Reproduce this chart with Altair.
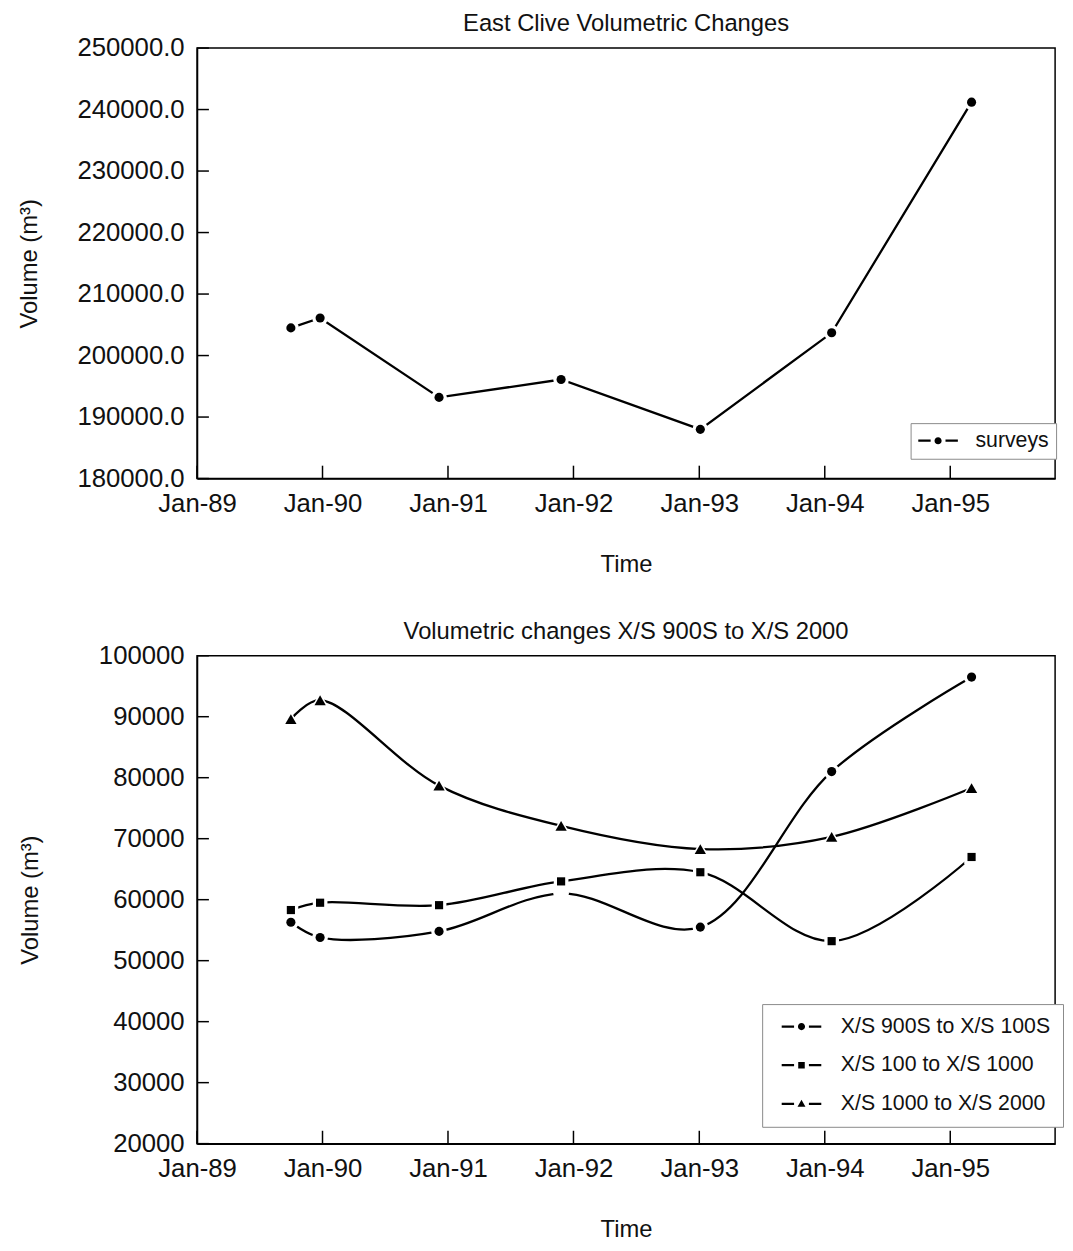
import altair as alt
import pandas as pd

FONT = "Liberation Sans"

# ---- data ----
survey_dates = ["1989/10/01", "1989/12/25", "1990/12/06", "1991/11/26",
                "1993/01/04", "1994/01/21", "1995/03/04"]
survey_volume = [204500, 206100, 193200, 196100, 188000, 203700, 241200]

section_names = ["X/S 900S to X/S 100S", "X/S 100 to X/S 1000", "X/S 1000 to X/S 2000"]
xs900s_100s = [56300, 53800, 54800, 61000, 55500, 81000, 96500]
xs900s_100s_marker = [True, True, True, False, True, True, True]
xs100_1000 = [58300, 59500, 59100, 63000, 64500, 53200, 67000]
xs1000_2000 = [89600, 92700, 78700, 72100, 68300, 70300, 78300]

year_ticks = ["1989/01/01", "1990/01/01", "1991/01/01", "1992/01/01",
              "1993/01/01", "1994/01/01", "1995/01/01"]
top_y_ticks = [180000, 190000, 200000, 210000, 220000, 230000, 240000, 250000]
bottom_y_ticks = [20000, 30000, 40000, 50000, 60000, 70000, 80000, 90000, 100000]

# ---- tables ----
top_df = pd.DataFrame({"date": survey_dates, "volume": survey_volume,
                       "series": "surveys", "shown": True})
rows = []
for name, vals, shown in [
    (section_names[0], xs900s_100s, xs900s_100s_marker),
    (section_names[1], xs100_1000, [True] * len(xs100_1000)),
    (section_names[2], xs1000_2000, [True] * len(xs1000_2000)),
]:
    for d, v, s in zip(survey_dates, vals, shown):
        rows.append({"date": d, "volume": v, "series": name, "shown": s})
bottom_df = pd.DataFrame(rows)

WIDTH = 867
X_DOMAIN = [alt.DateTime(year=1989, month=1, date=1), alt.DateTime(year=1995, month=11, date=2)]
YEAR_VALUES = [alt.DateTime(year=int(s[:4]), month=1, date=1) for s in year_ticks]

MARK_SHAPES = {"surveys": "circle",
               section_names[0]: "circle",
               section_names[1]: "square",
               section_names[2]: "triangle-up"}
MARK_SIZE = {"circle": 85, "square": 68, "triangle-up": 130}
HALO_SIZE = {"circle": 250, "square": 220, "triangle-up": 340}
# legend glyph "-o-": two short bars and a marker, all filled (units: 10 px)
LEG_DASH = "M-2,-0.11L-0.75,-0.11L-0.75,0.11L-2,0.11ZM0.75,-0.11L2,-0.11L2,0.11L0.75,0.11Z"
LEG_PATHS = {
    "circle": LEG_DASH + "M0,-0.36A0.36,0.36,0,1,1,0,0.36A0.36,0.36,0,1,1,0,-0.36Z",
    "square": LEG_DASH + "M-0.33,-0.33L0.33,-0.33L0.33,0.33L-0.33,0.33Z",
    "triangle-up": LEG_DASH + "M0,-0.4L0.4,0.3L-0.4,0.3Z",
}


def panel(df, names, title, y_domain, y_ticks, y_format, height, interp,
          title_pad, leg_x, leg_y, leg_pad, leg_row_pad, leg_sym_off, leg_lab_off):
    base = alt.Chart(df)
    x = alt.X("date:T", scale=alt.Scale(domain=X_DOMAIN),
              axis=alt.Axis(values=YEAR_VALUES, format="%b-%y", title="Time",
                            labelPadding=12, titlePadding=37, labelFlush=False,
                            labelOverlap=False))
    y = alt.Y("volume:Q", scale=alt.Scale(domain=y_domain, nice=False, zero=False),
              axis=alt.Axis(values=y_ticks, format=y_format, title="Volume (m³)",
                            labelPadding=13, titlePadding=title_pad, labelFlush=False))
    shapes = [MARK_SHAPES[n] for n in names]
    shape_scale = alt.Scale(domain=names, range=shapes)

    line = base.mark_line(color="black", strokeWidth=2.3, interpolate=interp).encode(
        x=x, y=y, detail="series:N")
    halo = base.mark_point(filled=True, opacity=1, color="white").encode(
        x="date:T", y="volume:Q",
        shape=alt.Shape("series:N", scale=shape_scale, legend=None),
        size=alt.Size("series:N", scale=alt.Scale(type="ordinal", domain=names,
                                                  range=[HALO_SIZE[s] for s in shapes]),
                      legend=None))
    marks = base.mark_point(filled=True, opacity=1).encode(
        x="date:T", y="volume:Q",
        shape=alt.Shape("series:N", scale=shape_scale, legend=None),
        size=alt.Size("series:N", scale=alt.Scale(type="ordinal", domain=names,
                                                  range=[MARK_SIZE[s] for s in shapes]),
                      legend=None),
        fill=alt.condition("datum.shown", alt.value("black"), alt.value("white")))
    xt = alt.Chart(pd.DataFrame({"date": year_ticks})).mark_rule(
        color="black", strokeWidth=1.5).encode(
        x="date:T", y=alt.value(height), y2=alt.value(height - 13))
    yt = alt.Chart(pd.DataFrame({"volume": y_ticks})).mark_rule(
        color="black", strokeWidth=1.5).encode(
        y="volume:Q", x=alt.value(0), x2=alt.value(12))
    leg = base.transform_filter("false").mark_point(
        filled=True, color="black", opacity=1).encode(
        x="date:T", y="volume:Q",
        shape=alt.Shape("series:N",
                        scale=alt.Scale(domain=names, range=[LEG_PATHS[s] for s in shapes]),
                        legend=alt.Legend(title=None, orient="none", legendX=leg_x, legendY=leg_y,
                                          strokeColor="#8a8a8a", fillColor="white",
                                          padding=leg_pad, rowPadding=leg_row_pad,
                                          symbolSize=400, symbolOffset=leg_sym_off,
                                          labelOffset=leg_lab_off, labelFont=FONT,
                                          labelFontSize=21.5, labelColor="#111111",
                                          labelLimit=400, symbolStrokeWidth=0,
                                          symbolFillColor="black", symbolOpacity=1)))
    return alt.layer(line, halo, marks, xt, yt, leg).resolve_scale(
        shape="independent", size="independent").properties(
        width=WIDTH, height=height,
        title=alt.TitleParams(title, fontSize=24, font=FONT, fontWeight="normal",
                              color="#111111", offset=-1))


top = panel(top_df, ["surveys"], "East Clive Volumetric Changes",
            [180000, 250000], top_y_ticks, ".1f", 435, "linear",
            36, 721, 379, 7, 0, 10, 27)
bottom = panel(bottom_df, section_names, "Volumetric changes X/S 900S to X/S 2000",
               [20000, 100000], bottom_y_ticks, "d", 493, "catmull-rom",
               56, 571, 352, 12, 16, 17, 29)

chart = alt.vconcat(top, bottom, spacing=42).configure(
    font=FONT, padding={"left": 8, "top": -3, "right": 0, "bottom": 0}
).configure_view(stroke="black", strokeWidth=1.5).configure_axis(
    domainColor="black", domainWidth=1.5, grid=False, ticks=False, tickSize=0,
    labelFont=FONT, labelFontSize=26, labelColor="#111111",
    titleFont=FONT, titleFontSize=24, titleFontWeight="normal", titleColor="#111111"
)

chart.save("out.html", embed_options={"renderer": "svg", "actions": False})
